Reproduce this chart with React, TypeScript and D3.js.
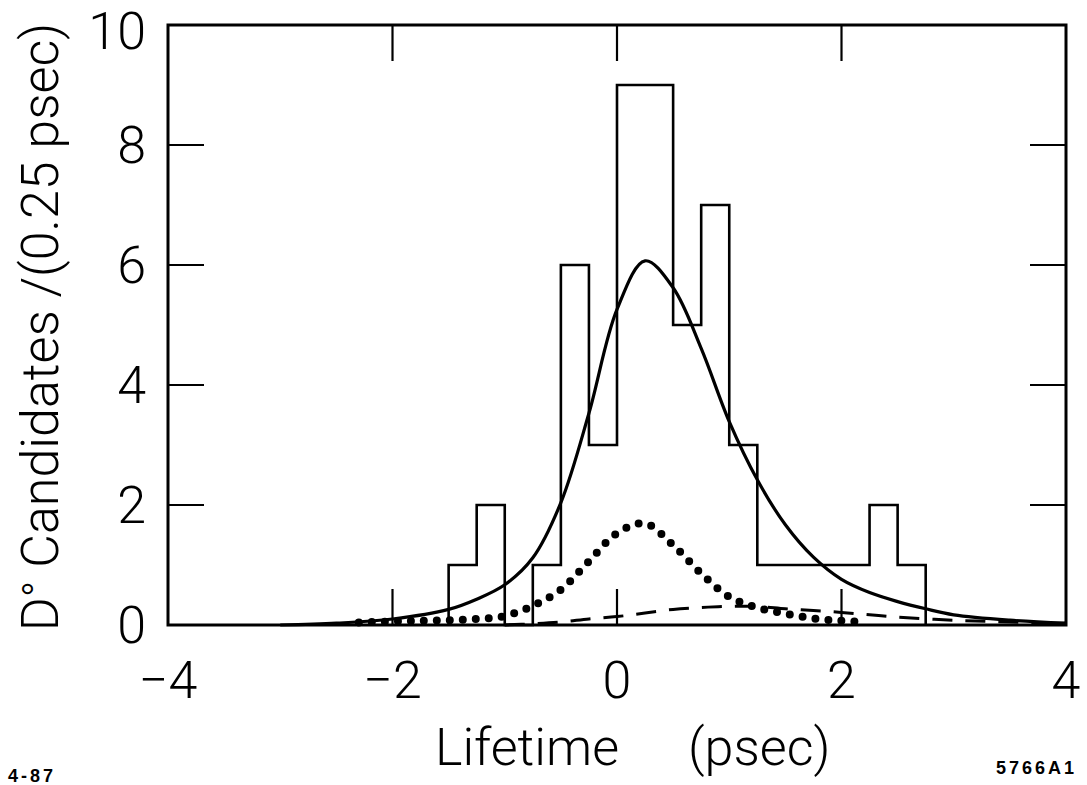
import React from 'react';
import * as d3 from 'd3';

// histogram: left edge of each 0.25 psec bin, and the entries in it
const binLeft = [-1.5, -1.25, -1.0, -0.75, -0.5, -0.25, 0, 0.25, 0.5, 0.75, 1.0, 1.25, 1.5, 1.75, 2.0, 2.25, 2.5];
const binCounts = [1, 2, 0, 1, 6, 3, 9, 9, 5, 7, 3, 1, 1, 1, 1, 2, 1];
const binWidth = 0.25;

// total fit (solid)
const fitX = [-3, -2.5, -2, -1.5, -1.25, -1, -0.75, -0.5, -0.25, 0, 0.25, 0.5, 0.75, 1, 1.25, 1.5, 1.75, 2, 2.25, 2.5, 2.75, 3, 3.5, 4];
const fitY = [0, 0.03, 0.1, 0.26, 0.43, 0.67, 1.12, 2.04, 3.53, 5.26, 6.07, 5.62, 4.61, 3.39, 2.42, 1.67, 1.13, 0.76, 0.54, 0.39, 0.27, 0.17, 0.08, 0.03];

// resolution-like component (dotted)
const dotX = [-2.3, -2, -1.75, -1.5, -1.25, -1, -0.75, -0.5, -0.25, 0, 0.25, 0.5, 0.75, 1, 1.25, 1.5, 1.75, 2, 2.2];
const dotY = [0.04, 0.06, 0.07, 0.08, 0.1, 0.15, 0.32, 0.59, 1.06, 1.53, 1.69, 1.33, 0.86, 0.47, 0.29, 0.19, 0.11, 0.07, 0.05];

// background component (dashed)
const dashX = [-1, -0.75, -0.5, -0.25, 0, 0.25, 0.5, 0.75, 1, 1.25, 1.5, 1.75, 2, 2.25, 2.5, 3, 3.5, 4];
const dashY = [0, 0.02, 0.05, 0.1, 0.14, 0.2, 0.26, 0.29, 0.31, 0.31, 0.27, 0.24, 0.21, 0.17, 0.13, 0.08, 0.05, 0.03];

const xTicks = [-4, -2, 0, 2, 4];
const yTicks = [0, 2, 4, 6, 8, 10];

const W = 1087;
const H = 785;

const font = 'Roboto, "DejaVu Sans", sans-serif';

export default function App() {
  const x = d3.scaleLinear().domain([-4, 4]).range([168, 1066]);
  const y = d3.scaleLinear().domain([0, 10]).range([625, 25]);

  const hist: [number, number][] = [[binLeft[0], 0]];
  binLeft.forEach((b, i) => hist.push([b, binCounts[i]]));
  hist.push([binLeft[binLeft.length - 1] + binWidth, 0]);

  const step = d3.line<[number, number]>()
    .x(d => x(d[0]))
    .y(d => y(d[1]))
    .curve(d3.curveStepAfter);

  const smooth = (xs: number[], ys: number[]) =>
    d3.line<number>()
      .x((_, i) => x(xs[i]))
      .y(d => y(d))
      .curve(d3.curveCatmullRom.alpha(0.5))(ys) || '';

  const tickLen = 36;

  return (
    <svg width={W} height={H} style={{ position: 'absolute', left: 0, top: 0, background: '#fff' }}>
      {/* frame */}
      <rect x={x(-4)} y={y(10)} width={x(4) - x(-4)} height={y(0) - y(10)}
        fill="none" stroke="#000" strokeWidth={3} />

      {/* inner ticks on all sides */}
      {xTicks.slice(1, -1).map(t => (
        <g key={'xt' + t}>
          <line x1={x(t)} x2={x(t)} y1={y(0)} y2={y(0) - tickLen} stroke="#000" strokeWidth={2.2} />
          <line x1={x(t)} x2={x(t)} y1={y(10)} y2={y(10) + tickLen} stroke="#000" strokeWidth={2.2} />
        </g>
      ))}
      {yTicks.slice(1, -1).map(t => (
        <g key={'yt' + t}>
          <line x1={x(-4)} x2={x(-4) + tickLen} y1={y(t)} y2={y(t)} stroke="#000" strokeWidth={2.2} />
          <line x1={x(4)} x2={x(4) - tickLen} y1={y(t)} y2={y(t)} stroke="#000" strokeWidth={2.2} />
        </g>
      ))}

      {/* histogram */}
      <path d={step(hist) || ''} fill="none" stroke="#000" strokeWidth={2.6} />

      {/* fit curves */}
      <path d={smooth(dashX, dashY)} fill="none" stroke="#000" strokeWidth={3} strokeDasharray="20 13" />
      <path d={smooth(dotX, dotY)} fill="none" stroke="#000" strokeWidth={8} strokeLinecap="round" strokeDasharray="0 13" />
      <path d={smooth(fitX, fitY)} fill="none" stroke="#000" strokeWidth={3.2} />

      {/* tick labels */}
      {xTicks.map(t => (
        <text key={'xl' + t} x={x(t)} y={698} textAnchor="middle" fontFamily={font} fontWeight={300}
          fontSize={52}>{t < 0 ? '\u2212' + Math.abs(t) : t}</text>
      ))}
      {yTicks.map(t => (
        <text key={'yl' + t} x={146} y={Math.max(y(t) + 18, 49)} textAnchor="end" fontFamily={font} fontWeight={300}
          fontSize={52}>{t}</text>
      ))}

      {/* axis titles */}
      <text x={435} y={765} fontFamily={font} fontWeight={300} fontSize={52}>Lifetime</text>
      <text x={688} y={765} fontFamily={font} fontWeight={300} fontSize={52}>(psec)</text>
      <text transform="translate(58,327) rotate(-90)" textAnchor="middle" fontFamily={font} fontWeight={300}
        fontSize={52}>D<tspan fontSize={44} dy={-4}>°</tspan><tspan dy={4}> Candidates /(0.25 psec)</tspan></text>

      {/* plate labels */}
      <text x={8} y={782} fontFamily='"Liberation Sans", Arial, sans-serif' fontWeight={700} fontSize={18}
        letterSpacing={3}>4-87</text>
      <text x={1077} y={774} textAnchor="end" fontFamily='"Liberation Sans", Arial, sans-serif' fontWeight={700}
        fontSize={18} letterSpacing={3}>5766A1</text>
    </svg>
  );
}
